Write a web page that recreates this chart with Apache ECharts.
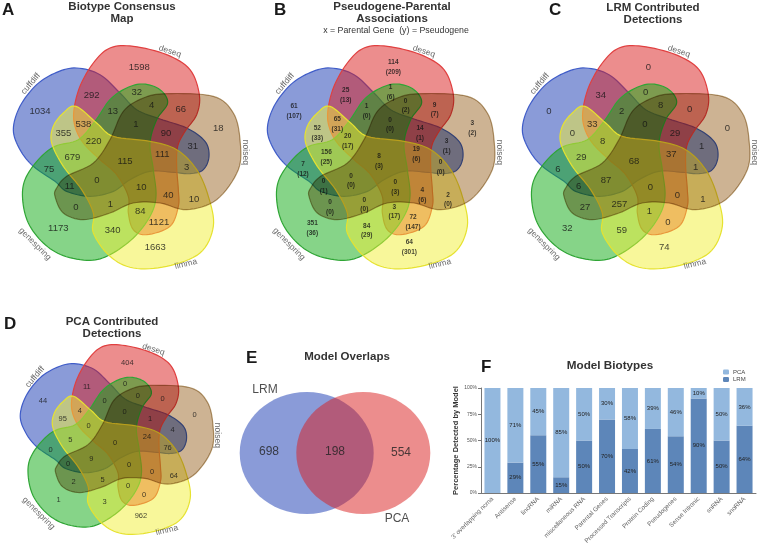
<!DOCTYPE html>
<html><head><meta charset="utf-8">
<style>html,body{margin:0;padding:0;background:#fff}#c{width:760px;height:550px}</style>
<script src="https://cdn.jsdelivr.net/npm/echarts@6/dist/echarts.min.js"></script></head>
<body><div id="c"></div>
<script>
// ---- data ----
var setNames = ['cuffdiff','deseq','noiseq','limma','genespring'];
var biotypeCounts = [1034,1598,18,1663,1173,292,32,4,66,13,1,90,31,355,538,220,679,115,111,3,75,11,0,10,40,10,0,1,84,1121,340];
var parentalCounts = [61,114,3,64,351,25,1,0,9,1,0,14,3,52,65,20,156,8,19,0,7,0,0,0,4,2,0,0,3,72,84];
var pseudogeneCounts = [107,209,2,301,36,13,6,2,7,0,0,1,1,33,31,17,25,3,6,0,12,1,0,3,6,0,0,0,17,147,29];
var lrmCounts = [0,0,0,74,32,34,0,8,0,2,0,29,1,0,33,8,29,68,37,1,6,6,87,0,0,1,27,257,1,0,59];
var pcaCounts = [44,404,0,962,1,11,0,0,0,0,0,1,4,95,4,0,5,0,24,76,0,0,9,0,0,64,2,5,0,0,3];
var overlapNames = ['LRM','PCA'];
var overlapCounts = [698,198,554];
var biotypes = ["3' overlapping ncrna",'Antisense','lincRNA','miRNA','miscellaneous RNA','Parental Genes','Processed Transcripts','Protein Coding','Pseudogenes','Sense Intronic','snRNA','snoRNA'];
var lrmShare = [0,29,55,15,50,70,42,61,54,90,50,64];
var pcaShare = [100,71,45,85,50,30,58,39,46,10,50,36];
var shareTicks = [0,25,50,75,100];

// ---- geometry of the five-set diagram (3x units) ----
var cx0 = 378, cy0 = 478;
var outlineBlue = [[40,390],[60,320],[110,255],[170,218],[230,205],[300,225],[360,280],[410,330],[480,358],[560,385],[615,425],[627,470],[610,510],[570,522],[520,518],[450,515],[390,540],[340,575],[270,590],[200,575],[165,545],[100,500],[60,450]];
var outlineRed = [[222,330],[240,260],[280,190],[330,145],[400,140],[500,165],[570,210],[598,285],[590,345],[555,395],[533,440],[530,500],[535,570],[535,620],[510,680],[440,705],[400,690],[385,640],[385,590],[350,525],[300,480],[250,430],[225,380]];
var outlineTan = [[165,590],[170,565],[200,530],[280,490],[330,420],[370,335],[430,295],[500,282],[640,290],[700,340],[720,420],[715,510],[650,600],[560,630],[480,610],[400,610],[330,640],[250,660],[190,640]];
var outlineGreen = [[165,440],[115,480],[75,540],[68,600],[85,670],[130,730],[190,768],[270,782],[330,765],[400,715],[450,650],[468,590],[460,510],[450,430],[470,360],[503,310],[480,270],[430,253],[380,265],[330,300],[285,365],[235,420]];
var outlineYellow = [[228,320],[190,340],[160,380],[155,430],[190,500],[245,570],[280,640],[280,700],[330,770],[400,805],[500,800],[600,760],[640,680],[625,590],[590,510],[530,450],[450,425],[340,410],[290,370]];
var regionXY = [[120,335],[418,203],[655,385],[466,742],[175,685],[275,287],[410,278],[455,318],[542,330],[338,335],[408,375],[498,400],[578,440],[190,400],[250,373],[281,425],[217,473],[375,484],[487,463],[560,503],[147,508],[209,560],[291,543],[424,562],[505,586],[582,600],[228,622],[331,615],[421,636],[477,668],[338,693]];
var setLabelXY = [[92,252,50],[510,155,-18],[735,458,-90],[558,793,14],[105,733,-45]];
var petalStyle = [ // painted in this order; the tan set multiplies over the others
  {outline:outlineBlue, fill:'rgba(21,55,177,.5)', line:'#3f5cc8'},
  {outline:outlineRed, fill:'rgba(217,27,27,.5)', line:'#e04040'},
  {outline:outlineGreen, fill:'rgba(13,169,17,.5)', line:'#2fa535'},
  {outline:outlineYellow, fill:'rgba(241,239,53,.5)', line:'#e6e230'},
  {outline:outlineTan, fill:'rgb(205,179,147)', line:'#b99f74'}
];
var panels = [
  {cx:126, cy:159, s:1, font:9.5, bold:false, text:biotypeCounts.map(String)},
  {cx:380, cy:159, s:1, font:6.5, bold:true, text:parentalCounts.map(function(v,i){return v+'\n('+pseudogeneCounts[i]+')';})},
  {cx:635, cy:159, s:1, font:9.5, bold:false, text:lrmCounts.map(String)},
  {cx:116, cy:441, s:0.85, font:7.5, bold:false, text:pcaCounts.map(String)}
];

function smoothClosed(pts,n){
  var out=[],m=pts.length;
  for(var i=0;i<m;i++){
    var a=pts[(i-1+m)%m],b=pts[i],c=pts[(i+1)%m],d=pts[(i+2)%m];
    for(var k=0;k<n;k++){
      var t=k/n,t2=t*t,t3=t2*t;
      out.push([0,1].map(function(j){return 0.5*(2*b[j]+(c[j]-a[j])*t+(2*a[j]-5*b[j]+4*c[j]-d[j])*t2+(3*b[j]-a[j]-3*c[j]+d[j])*t3);}));
    }
  }
  return out.map(function(p){return [p[0]-cx0,p[1]-cy0];});
}
petalStyle.forEach(function(st){st.pts=smoothClosed(st.outline,8);});

// ---- series data ----
var petalData=[], tanData=[], regionLabels=[], setLabels=[];
panels.forEach(function(pn){
  [0,1,2,3].forEach(function(si){ petalData.push([pn.cx,pn.cy,pn.s,si]); });
  tanData.push([pn.cx,pn.cy,pn.s,4]);
  regionXY.forEach(function(xy,i){
    regionLabels.push({value:[pn.cx+(xy[0]-cx0)/3*pn.s,pn.cy+(xy[1]-cy0)/3*pn.s],
      label:{formatter:pn.text[i],fontSize:pn.font,fontWeight:pn.bold?'bold':'normal',lineHeight:pn.font+3}});
  });
  setLabelXY.forEach(function(xy,i){
    setLabels.push({value:[pn.cx+(xy[0]-cx0)/3*pn.s,pn.cy+(xy[1]-cy0)/3*pn.s],
      label:{formatter:setNames[i],rotate:xy[2]}});
  });
});

function renderPetal(params,api){
  var cx=api.value(0),cy=api.value(1),s=api.value(2),st=petalStyle[api.value(3)];
  var pts=st.pts.map(function(p){
    return api.coord([cx+p[0]/3*s,cy+p[1]/3*s]);
  });
  return {type:'polygon',shape:{points:pts},style:{fill:st.fill,stroke:st.line,lineWidth:1.2}};
}

function titleAt(text,x,y,size,extra){
  return Object.assign({text:text,left:x,top:y,textAlign:'center',padding:0,itemGap:0,
    textStyle:{fontFamily:'Liberation Sans',fontSize:size,fontWeight:'bold',color:'#333',lineHeight:size+0.5}},extra||{});
}
function letter(t,x,y){return {text:t,left:x,top:y,padding:0,textStyle:{fontFamily:'Liberation Sans',fontSize:17,fontWeight:'bold',color:'#1a1a1a'}};}

var chart = echarts.init(document.getElementById('c'),null,{renderer:'canvas'});
chart.setOption({
  animation:false,
  backgroundColor:'#fff',
  textStyle:{fontFamily:'Liberation Sans'},
  title:[
    letter('A',2,2),letter('B',274,2),letter('C',549,2),letter('D',4,316),letter('E',246,350),letter('F',481,359),
    titleAt('Biotype Consensus\nMap',122,1,11.5),
    titleAt('Pseudogene-Parental\nAssociations',392,1,11.5),
    titleAt('x = Parental Gene  (y) = Pseudogene',396,26,8.8,{textStyle:{fontFamily:'Liberation Sans',fontSize:8.8,fontWeight:'normal',color:'#333'}}),
    titleAt('LRM Contributed\nDetections',653,2,11.5),
    titleAt('PCA Contributed\nDetections',112,316,11.5),
    titleAt('Model Overlaps',347,351,11.5),
    titleAt('Model Biotypes',610,360,11.7)
  ],
  legend:{data:[{name:'PCA'},{name:'LRM'}],orient:'vertical',left:723,top:369,itemWidth:6,itemHeight:5,itemGap:1.5,padding:0,
    textStyle:{fontSize:6,color:'#444',padding:[0,0,0,-1]},selectedMode:false},
  grid:[
    {left:0,top:0,width:760,height:550,show:false},
    {left:481,top:388,width:275,height:105,show:false}
  ],
  xAxis:[
    {gridIndex:0,type:'value',min:0,max:760,show:false},
    {gridIndex:1,type:'category',data:biotypes,
      axisLine:{lineStyle:{color:'#777',width:1}},axisTick:{show:false},
      axisLabel:{rotate:45,interval:0,fontSize:6.3,color:'#666',margin:5}}
  ],
  yAxis:[
    {gridIndex:0,type:'value',min:0,max:550,inverse:true,show:false},
    {gridIndex:1,type:'value',min:0,max:100,interval:25,
      name:'Percentage Detected by Model',nameLocation:'middle',nameGap:16,
      nameTextStyle:{fontSize:7.5,fontWeight:'bold',color:'#333'},
      splitLine:{show:false},
      axisLine:{show:true,lineStyle:{color:'#777',width:1}},
      axisTick:{show:true,length:3,lineStyle:{color:'#777'}},
      axisLabel:{fontSize:5,color:'#555',margin:4,formatter:function(v){return shareTicks.indexOf(v)>=0?v+'%':'';}}}
  ],
  series:[
    {type:'custom',xAxisIndex:0,yAxisIndex:0,silent:true,z:1,clip:false,data:petalData,renderItem:renderPetal},
    {type:'custom',xAxisIndex:0,yAxisIndex:0,silent:true,z:1,clip:false,data:tanData,renderItem:renderPetal,blendMode:'multiply'},
    {type:'custom',xAxisIndex:0,yAxisIndex:0,silent:true,z:1,clip:false,
      data:[[306.7,453,67,61,'rgba(21,55,177,.5)'],[363.3,453,67,61,'rgba(217,27,27,.5)']],
      renderItem:function(params,api){
        var c=api.coord([api.value(0),api.value(1)]);
        return {type:'ellipse',shape:{cx:c[0],cy:c[1],rx:api.value(2),ry:api.value(3)},style:{fill:api.value(4)}};
      }},
    {type:'scatter',xAxisIndex:0,yAxisIndex:0,silent:true,z:5,symbolSize:0,data:regionLabels,
      label:{show:true,position:'inside',color:'#141414',fontFamily:'Liberation Sans'}},
    {type:'scatter',xAxisIndex:0,yAxisIndex:0,silent:true,z:5,symbolSize:0,data:setLabels,
      label:{show:true,position:'inside',color:'#444',fontSize:8.5,fontFamily:'Liberation Sans'}},
    {type:'scatter',xAxisIndex:0,yAxisIndex:0,silent:true,z:5,symbolSize:0,
      data:[
        {value:[269,452],label:{formatter:String(overlapCounts[0])}},
        {value:[335,452],label:{formatter:String(overlapCounts[1])}},
        {value:[401,453],label:{formatter:String(overlapCounts[2])}},
        {value:[265,390],label:{formatter:overlapNames[0]}},
        {value:[397,519],label:{formatter:overlapNames[1]}}
      ],
      label:{show:true,position:'inside',color:'#222',fontSize:12,fontFamily:'Liberation Sans'}},
    {name:'LRM',type:'bar',xAxisIndex:1,yAxisIndex:1,stack:'share',barWidth:16,data:lrmShare,
      itemStyle:{color:'#5d86b9'},
      label:{show:true,position:'inside',fontSize:6,color:'#222',formatter:function(p){return p.value>0?p.value+'%':'';}}},
    {name:'PCA',type:'bar',xAxisIndex:1,yAxisIndex:1,stack:'share',barWidth:16,data:pcaShare,
      itemStyle:{color:'#93b8de'},
      label:{show:true,position:'inside',fontSize:6,color:'#222',formatter:function(p){return p.value+'%';}}}
  ]
});
</script></body></html>
